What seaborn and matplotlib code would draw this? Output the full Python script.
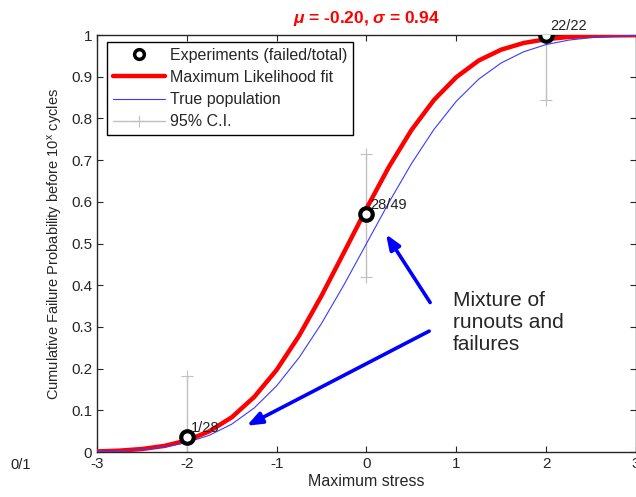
import numpy as np
import pandas as pd
import matplotlib
matplotlib.use("Agg")
import matplotlib.pyplot as plt
import seaborn as sns
from matplotlib.lines import Line2D

# curves (x step 0.25)
stress = [-3.0, -2.75, -2.5, -2.25, -2.0, -1.75, -1.5, -1.25, -1.0, -0.75, -0.5, -0.25,
          0.0, 0.25, 0.5, 0.75, 1.0, 1.25, 1.5, 1.75, 2.0, 2.25, 2.5, 2.75, 3.0]
ml_fit = [0.0014, 0.0033, 0.0072, 0.0146, 0.0277, 0.0496, 0.0833, 0.132, 0.197, 0.279,
          0.375, 0.479, 0.584, 0.684, 0.772, 0.844, 0.899, 0.939, 0.965, 0.981, 0.990,
          0.9954, 0.998, 0.9991, 0.9996]
true_pop = [0.0013, 0.0030, 0.0062, 0.0122, 0.0228, 0.0401, 0.0668, 0.1056, 0.1587, 0.2266,
            0.3085, 0.4013, 0.5, 0.5987, 0.6915, 0.7734, 0.8413, 0.8944, 0.9332, 0.9599,
            0.9772, 0.9878, 0.9938, 0.9970, 0.9987]

# experiments
exp_x = [-4, -2, 0, 2]
failed = [0, 1, 28, 22]
total = [1, 28, 49, 22]
ci_low = [0.0, 0.0, 0.42, 0.845]
ci_high = [0.0, 0.182, 0.715, 1.0]

mu_fit, sigma_fit = -0.20, 0.94

sns.set_style("ticks")
plt.rcParams["font.family"] = ["Liberation Sans", "DejaVu Sans"]
plt.rcParams["axes.unicode_minus"] = False
plt.rcParams["mathtext.fontset"] = "custom"
plt.rcParams["mathtext.it"] = "Liberation Sans:italic:bold"
plt.rcParams["mathtext.rm"] = "Liberation Sans"

fig = plt.figure(figsize=(6.36, 4.97), dpi=100)
ax = fig.add_axes([0.1525, 0.0905, 0.8475, 0.839])

df = pd.DataFrame({"stress": stress, "ml": ml_fit, "true": true_pop})
frac = [f / t for f, t in zip(failed, total)]

# 95% C.I. bars
for x, lo, hi in zip(exp_x[1:], ci_low[1:], ci_high[1:]):
    ax.plot([x, x], [lo, hi], color="#c0c0c0", lw=1, marker="+", ms=9, mew=0.8, zorder=1)

sns.lineplot(data=df, x="stress", y="ml", ax=ax, color="red", lw=3.2, zorder=3)
sns.lineplot(data=df, x="stress", y="true", ax=ax, color="#3a3aff", lw=0.8, zorder=4)

ax.plot(exp_x, frac, ls="none", marker="o", ms=9, mfc="white", mec="black", mew=3,
        zorder=5, clip_on=True)
for x, f, t, p in zip(exp_x, failed, total, frac):
    ty = p + 0.022 if x > -3 else -0.03
    ax.text(x + 0.04, ty, f"{f}/{t}", fontsize=10.5, va="center", ha="left", color="#222222",
            zorder=6)

# annotation arrows
ax.text(0.96, 0.31, "Mixture of\nrunouts and\nfailures", fontsize=15, va="center",
        ha="left", linespacing=1.2)
arrow = dict(arrowstyle="-|>,head_length=0.9,head_width=0.35", color="#0000ff", lw=2.6)
ax.annotate("", xy=(0.2, 0.528), xytext=(0.725, 0.353), arrowprops=arrow)
ax.annotate("", xy=(-1.36, 0.06), xytext=(0.725, 0.293), arrowprops=arrow)

ax.set_xlim(-3, 3)
ax.set_ylim(0, 1)
ax.set_xticks(range(-3, 4))
ax.set_yticks(np.arange(0, 1.01, 0.1))
ax.set_yticklabels(["0", "0.1", "0.2", "0.3", "0.4", "0.5", "0.6", "0.7", "0.8", "0.9", "1"])
ax.tick_params(direction="in", top=True, right=True, labelsize=11, length=4, width=0.8)
for s in ax.spines.values():
    s.set_visible(True)
    s.set_linewidth(1.0)
ax.set_xlabel("Maximum stress", fontsize=11.5, labelpad=2)
ax.set_ylabel("Cumulative Failure Probability before 10$^\\mathregular{x}$ cycles",
              fontsize=10.5, labelpad=4)
ax.set_title(f"$\\mu$ = {mu_fit:.2f}, $\\sigma$ = {sigma_fit:.2f}", color="red",
             fontsize=12.5, fontweight="bold", pad=9)

handles = [
    Line2D([], [], ls="none", marker="o", ms=7, mfc="white", mec="black", mew=2.5),
    Line2D([], [], color="red", lw=3.2),
    Line2D([], [], color="#3a3aff", lw=0.8),
    Line2D([], [], color="#c0c0c0", lw=1, marker="+", ms=9, mew=0.8, markevery=[1]),
]
leg = ax.legend(handles, ["Experiments (failed/total)", "Maximum Likelihood fit",
                          "True population", "95% C.I."],
                loc="upper left", bbox_to_anchor=(0.0186, 0.983), borderaxespad=0,
                fontsize=11.5, fancybox=False, framealpha=1, edgecolor="black",
                handlelength=3.3, borderpad=0.35, labelspacing=0.45, handletextpad=0.3)
leg.get_frame().set_linewidth(1.0)

fig.savefig("out.png", dpi=100)
